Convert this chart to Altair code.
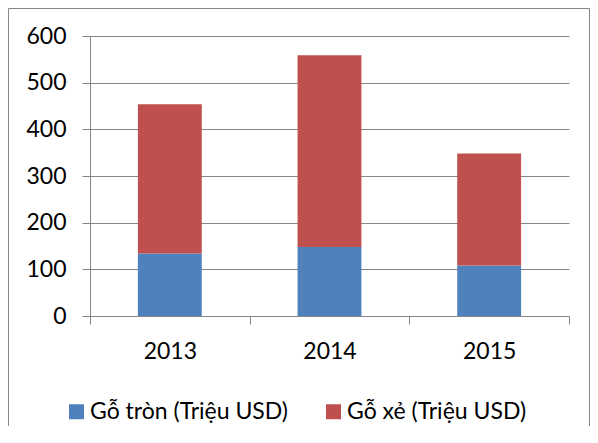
import altair as alt
import pandas as pd

years = ["2013", "2014", "2015"]
go_tron = [134, 148, 108]
go_xe = [320, 411, 240]
series = ["Gỗ tròn (Triệu USD)", "Gỗ xẻ (Triệu USD)"]
colors = ["#4F81BD", "#C0504D"]
y_ticks = [0, 100, 200, 300, 400, 500, 600]

rows = []
for i, yr in enumerate(years):
    rows.append({"year": yr, "series": series[0], "value": go_tron[i], "ord": 0})
    rows.append({"year": yr, "series": series[1], "value": go_xe[i], "ord": 1})
df = pd.DataFrame(rows)

FONT = "Lato"
FS = 23
GRAY = "#868686"
W, H = 479, 280

bars = alt.Chart(df).mark_bar(width=alt.RelativeBandSize(0.4)).encode(
    x=alt.X("year:N", sort=years, title=None,
            scale=alt.Scale(paddingInner=0, paddingOuter=0),
            axis=alt.Axis(labelAngle=0, tickBand="extent", tickSize=8,
                          grid=False, labelPadding=16)),
    y=alt.Y("value:Q", stack="zero", title=None,
            scale=alt.Scale(domain=[0, 600], nice=False),
            axis=alt.Axis(values=y_ticks, tickSize=8, grid=True,
                          labelPadding=16)),
    color=alt.Color("series:N", scale=alt.Scale(domain=series, range=colors),
                    legend=alt.Legend(title=None, orient="none", direction="horizontal",
                                      legendX=-25, legendY=364,
                                      symbolType="square", symbolSize=225,
                                      symbolStrokeWidth=0, labelFontSize=FS,
                                      labelFont=FONT, labelColor="#000",
                                      labelOffset=2, columnPadding=33,
                                      padding=0, labelLimit=400)),
    order=alt.Order("ord:Q", sort="ascending"),
)

frame = alt.Chart(pd.DataFrame({"a": [0]})).mark_rect(
    filled=False, stroke=GRAY, strokeWidth=1
).encode(
    x=alt.value(-81.5), x2=alt.value(499.5),
    y=alt.value(-27.5), y2=alt.value(460),
)

chart = alt.layer(frame, bars).properties(
    width=W, height=H,
    autosize=alt.AutoSizeParams(type="none"),
    padding={"left": 82, "top": 28, "right": 21, "bottom": 110},
).configure_view(stroke=None).configure_axis(
    labelFont=FONT, labelFontSize=FS, labelColor="#000",
    domainColor=GRAY, tickColor=GRAY, gridColor=GRAY,
    domainWidth=1, tickWidth=1, gridWidth=1,
)

chart.save("out.html", embed_options={"renderer": "svg", "actions": False})
